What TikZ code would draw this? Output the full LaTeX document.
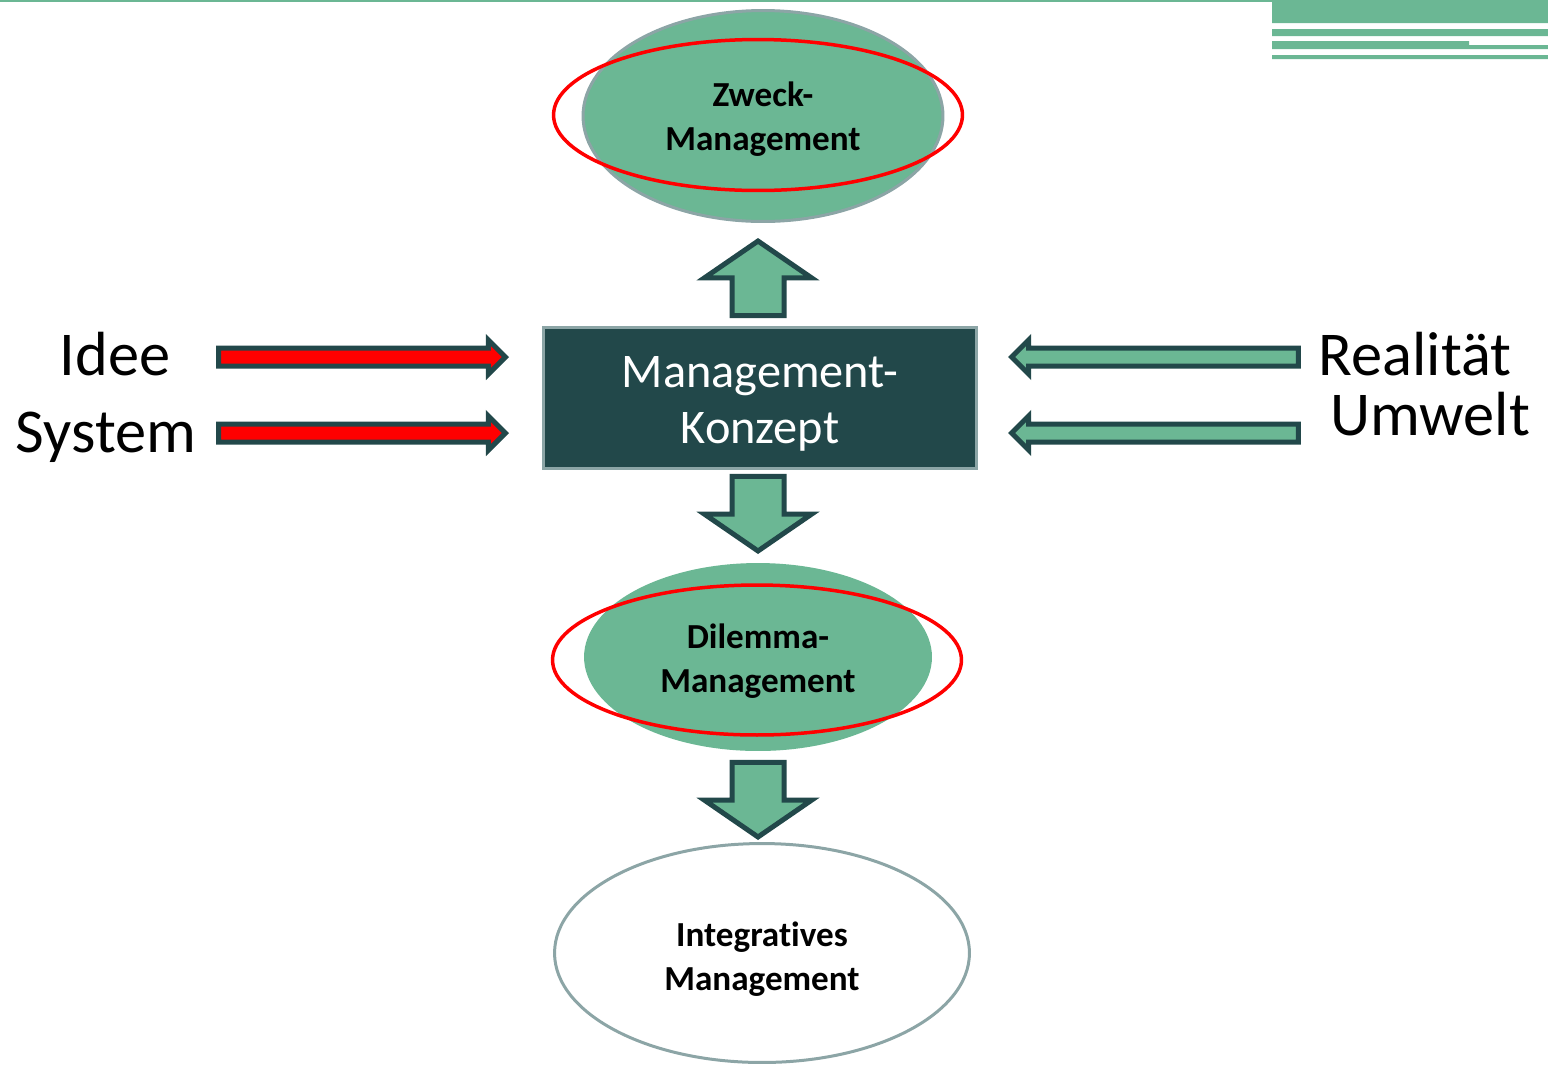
\documentclass[tikz,border=0pt]{standalone}
\usepackage{fontspec}
\setmainfont[Ligatures=NoCommon]{Carlito}
\usepackage{tikz}
\usetikzlibrary{
    shapes.geometric,
    shapes.arrows
}
\definecolor{gruen}{HTML}{6BB794}
\definecolor{dunkel}{HTML}{22484A}
\definecolor{grau}{HTML}{8CA5A6}
\definecolor{rot}{HTML}{FF0000}

\begin{document}
\begin{tikzpicture}[x=0.02cm, y=-0.02cm,
    blase/.style={ellipse, draw=grau, line width=0.06cm, inner sep=0pt},
    titel/.style={align=center, font=\fontsize{20}{25}\selectfont\bfseries},
    ring/.style={ellipse, draw=rot, line width=0.07cm, inner sep=0pt,
        minimum width=8.18cm, minimum height=3.02cm},
    blockpfeil/.style={single arrow, draw=dunkel, fill=gruen, line width=0.1cm,
        inner xsep=0pt, inner ysep=0.47cm, minimum height=1.49cm,
        single arrow head extend=0.55cm, single arrow tip angle=111, anchor=tip},
    zupfeil/.style={single arrow, draw=dunkel, line width=0.1cm,
        inner xsep=0pt, inner ysep=0.13cm, minimum height=5.74cm,
        single arrow head extend=0.16cm, anchor=tip},
    wort/.style={anchor=base, font=\fontsize{35.5}{40}\selectfont}]
    \useasboundingbox (0, 0) rectangle (1548, 1066);
    % Kopfleiste
    \fill[gruen] (0, 0) rectangle (1272, 1.5);
    \fill[gruen]
    (1272, 0) rectangle (1548, 23)
    (1272, 29) rectangle (1548, 36)
    (1272, 41) rectangle (1469, 49)
    (1469, 45) rectangle (1548, 49)
    (1272, 55) rectangle (1548, 59);
    % Ellipsen und Konzept
    \node[blase, fill=gruen, minimum width=7.2cm, minimum height=4.22cm] (zweck) at (763, 116) {};
    \node[titel] (zwecktitel) at (763, 119) {Zweck-\\Management};
    \node[ring] (zweckring) at (758, 115) {};
    \node[draw=grau, fill=dunkel, line width=0.07cm, inner sep=0pt,
        minimum width=8.67cm, minimum height=2.83cm] (konzept) at (760, 398) {};
    \node[text=white, align=center, font=\fontsize{27.5}{32}\selectfont, yshift=-0.11cm]
        (konzepttitel) at (konzept) {Management-\\Konzept};
    \node[blase, fill=gruen, draw=none, minimum width=6.96cm, minimum height=3.76cm] (dilemma) at (758, 657) {};
    \node[titel] (dilemmatitel) at (758, 661) {Dilemma-\\Management};
    \node[ring, minimum height=3cm] (dilemmaring) at (757, 660) {};
    \node[blase, fill=white, minimum width=8.3cm, minimum height=4.38cm] (integrativ) at (762, 953) {};
    \node[titel] (integrativtitel) at (762, 959) {Integratives\\Management};
    % Blockpfeile
    \node[blockpfeil, rotate=90] (hoch) at (758, 238) {};
    \node[blockpfeil, rotate=-90] (runter) at (758, 554) {};
    \node[blockpfeil, rotate=-90] (runter2) at (758, 840) {};
    % Zufluesse
    \node[zupfeil, fill=rot] (ideepfeil) at (509, 357) {};
    \node[zupfeil, fill=rot] (systempfeil) at (509, 433) {};
    \node[zupfeil, fill=gruen, rotate=180] (realpfeil) at (1008, 357) {};
    \node[zupfeil, fill=gruen, rotate=180] (umweltpfeil) at (1008, 433) {};
    % Beschriftung
    \node[wort] (idee) at (115, 375) {Idee};
    \node[wort] (system) at (106, 452) {System};
    \node[wort] (realitaet) at (1415, 375) {Realität};
    \node[wort] (umwelt) at (1430, 435) {Umwelt};
\end{tikzpicture}
\end{document}
